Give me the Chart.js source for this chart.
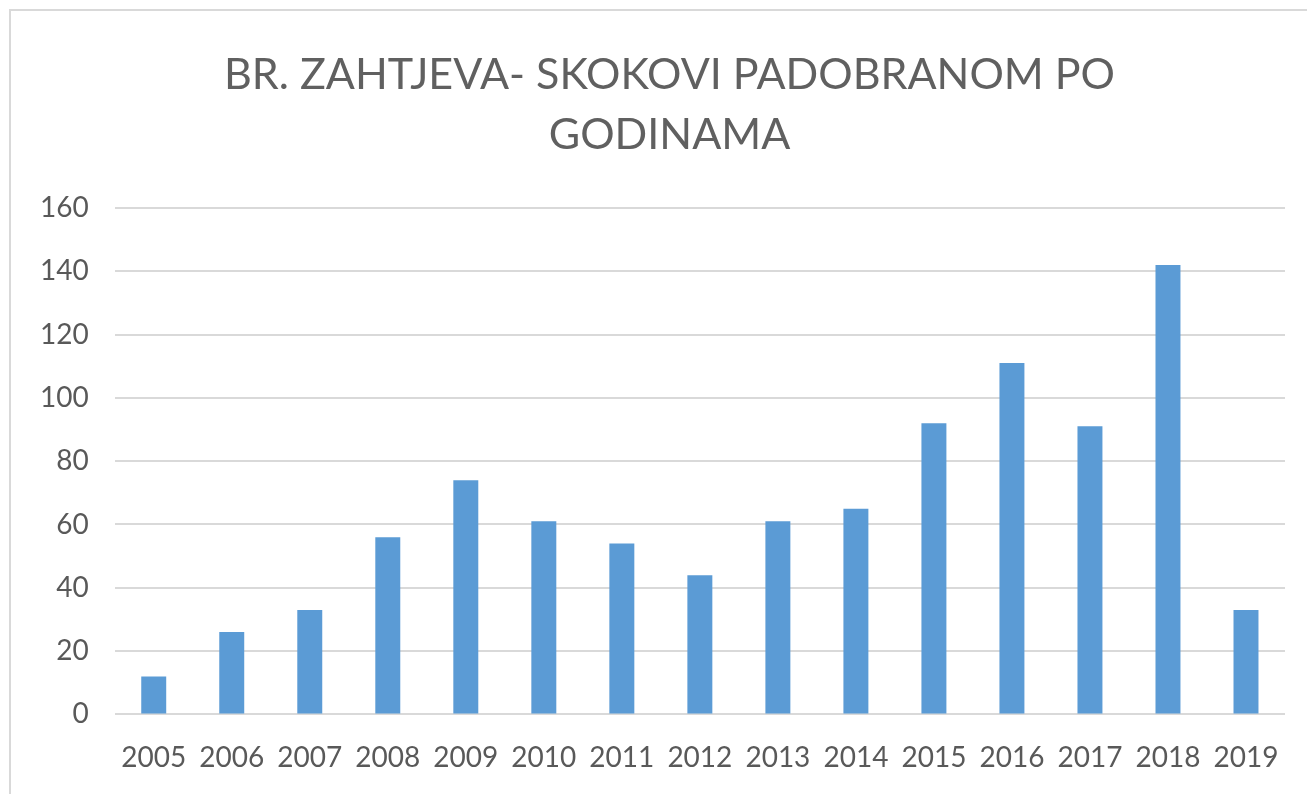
<!DOCTYPE html>
<html>
<head>
<meta charset="utf-8">
<script src="https://cdn.jsdelivr.net/npm/chart.js@4"></script>
<style>
  html, body { margin: 0; padding: 0; background: #fff; overflow: hidden; }
  #box {
    position: absolute; left: 9px; top: 9px;
    width: 1356px; height: 790px;
    border-left: 2px solid #d9d9d9; border-top: 2px solid #d9d9d9;
  }
</style>
</head>
<body>
<div id="box"><canvas id="chart"></canvas></div>
<script>
const years = ['2005','2006','2007','2008','2009','2010','2011','2012','2013','2014','2015','2016','2017','2018','2019'];
const requests = [12, 26, 33, 56, 74, 61, 54, 44, 61, 65, 92, 111, 91, 142, 33];
const titleLines = ['BR. ZAHTJEVA- SKOKOVI PADOBRANOM PO', 'GODINAMA'];

const textColor = '#595959';
const gridColor = '#d9d9d9';

new Chart(document.getElementById('chart'), {
  type: 'bar',
  data: {
    labels: years,
    datasets: [{
      data: requests,
      backgroundColor: '#5b9bd5',
      borderWidth: 0,
      barPercentage: 0.32,
      categoryPercentage: 1
    }]
  },
  options: {
    responsive: true,
    maintainAspectRatio: false,
    animation: false,
    layout: { padding: { left: 3, right: 42, top: 0, bottom: 7 } },
    plugins: {
      legend: { display: false },
      tooltip: { enabled: false },
      title: {
        display: true,
        text: titleLines,
        color: '#606060',
        font: { family: 'Lato', size: 43, weight: 'normal', lineHeight: 1.395 },
        padding: { top: 34, bottom: 43 }
      }
    },
    scales: {
      x: {
        grid: { display: false },
        border: { display: false },
        ticks: { color: textColor, font: { family: 'Lato', size: 28 }, padding: 19, maxRotation: 0 }
      },
      y: {
        min: 0, max: 160,
        grid: { color: gridColor, lineWidth: 2, drawTicks: false },
        border: { display: false },
        ticks: { stepSize: 20, color: textColor, font: { family: 'Lato', size: 28 }, padding: 26 }
      },
      // empty strip on the right: keeps the plot edge while the title centres on the frame
      spacer: {
        type: 'linear',
        position: 'right',
        grid: { display: false },
        border: { display: false },
        ticks: { display: false },
        afterFit: scale => { scale.width = 40; }
      }
    }
  }
});
</script>
</body>
</html>
